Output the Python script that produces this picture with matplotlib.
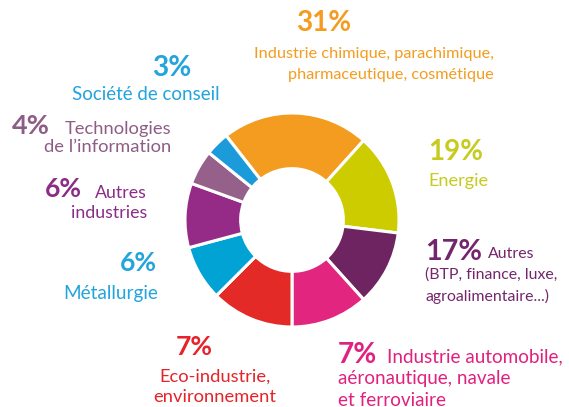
import matplotlib.pyplot as plt

# secteurs, dans l'ordre horaire a partir du haut
sectors = ['Industrie chimique', 'Energie', 'Autres', 'Industrie automobile',
           'Eco-industrie', 'Metallurgie', 'Autres industries',
           'Technologies', 'Societe de conseil']
percents = [31, 19, 17, 7, 7, 6, 6, 4, 3]
# angles des parts tels que dessines sur l'infographie (en degres)
drawn_angles = [80, 55, 41, 42, 45, 30, 35, 19, 13]
colors = ['#F39C1F', '#CDCC00', '#6E2461', '#E2267F', '#E32A26',
          '#00A3D4', '#952A87', '#95608A', '#1B9BD9']
text_colors = ['#F39C1F', '#C6CB1E', '#74266C', '#E0217F', '#E52329',
               '#22A4DC', '#8B2C87', '#8E5D86', '#22A4DC']
descriptions = [['Industrie chimique, parachimique,', 'pharmaceutique, cosmétique'],
                ['Energie'],
                ['Autres'],
                ['Industrie automobile,'],
                ['Eco-industrie,', 'environnement'],
                ['Métallurgie'],
                ['Autres', 'industries'],
                ['Technologies', 'de l\u2019information'],
                ['Société de conseil']]
extra_lines = {2: ['(BTP, finance, luxe,', 'agroalimentaire...)'],
               3: ['aéronautique, navale', 'et ferroviaire']}

W, H = 569, 407
fig = plt.figure(figsize=(W / 100, H / 100), dpi=100)
fig.patch.set_facecolor('white')
renderer = fig.canvas.get_renderer()

cx, cy, r = 292, 220, 107
ax = fig.add_axes([(cx - r) / W, (H - cy - r) / H, 2 * r / W, 2 * r / H])
ax.pie(drawn_angles, colors=colors, startangle=128, counterclock=False,
       radius=1, wedgeprops=dict(width=0.52, edgecolor='white', linewidth=2.2))
ax.set_xlim(-1, 1)
ax.set_ylim(-1, 1)
ax.set_aspect('equal')
ax.axis('off')


def px(x, y):
    return x / W, 1 - y / H


def fit_size(text, width_px, weight='normal'):
    # taille de police pour qu'une ligne occupe la largeur voulue
    t = fig.text(0, 0, text, fontsize=10, family=font, fontweight=weight)
    w = t.get_window_extent(renderer).width
    t.remove()
    return 10 * width_px / w


font = 'Lato'

# (x pct, y pct, ha pct, largeur pct, x desc, y desc, ha desc, ligne de reference, largeur, pas)
layout = [
    (324, 23, 'center', 55, 494, 54, 'right', 'Industrie chimique, parachimique,', 240, 21),
    (428, 152, 'left', 55, 428, 181, 'left', 'Energie', 60, 21),
    (425, 252, 'left', 57, 488, 254, 'left', '(BTP, finance, luxe,', 132, 21),
    (338, 355, 'left', 39, 387, 357, 'left', 'Industrie automobile,', 176, 21.5),
    (194, 347, 'center', 37, 215, 377, 'center', 'Eco-industrie,', 112, 19.5),
    (157, 263, 'right', 37, 158, 293, 'right', 'Métallurgie', 95, 21),
    (45, 189, 'left', 37, 147, 193, 'right', 'Autres', 52, 19.5),
    (12, 126, 'left', 38, 171, 129, 'right', 'Technologies', 107, 18.5),
    (172, 68, 'center', 39, 146, 95, 'center', 'Société de conseil', 148, 21),
]

for i, (xp, yp, hap, wp, xd, yd, had, ref_line, wd, step) in enumerate(layout):
    c = text_colors[i]
    label = f'{percents[i]}%'
    fig.text(*px(xp, yp), label, color=c, fontsize=fit_size(label, wp, 'bold'),
             fontweight='bold', family=font, ha=hap, va='center')
    fs = fit_size(ref_line, wd)
    for k, line in enumerate(descriptions[i]):
        fig.text(*px(xd, yd + k * step), line, color=c, fontsize=fs,
                 family=font, ha=had, va='center')
    if i in extra_lines:
        for k, line in enumerate(extra_lines[i]):
            fig.text(*px(xp, yd + (k + 1) * step), line, color=c, fontsize=fs,
                     family=font, ha='left', va='center')

fig.savefig('out.png', dpi=100, facecolor='white')
